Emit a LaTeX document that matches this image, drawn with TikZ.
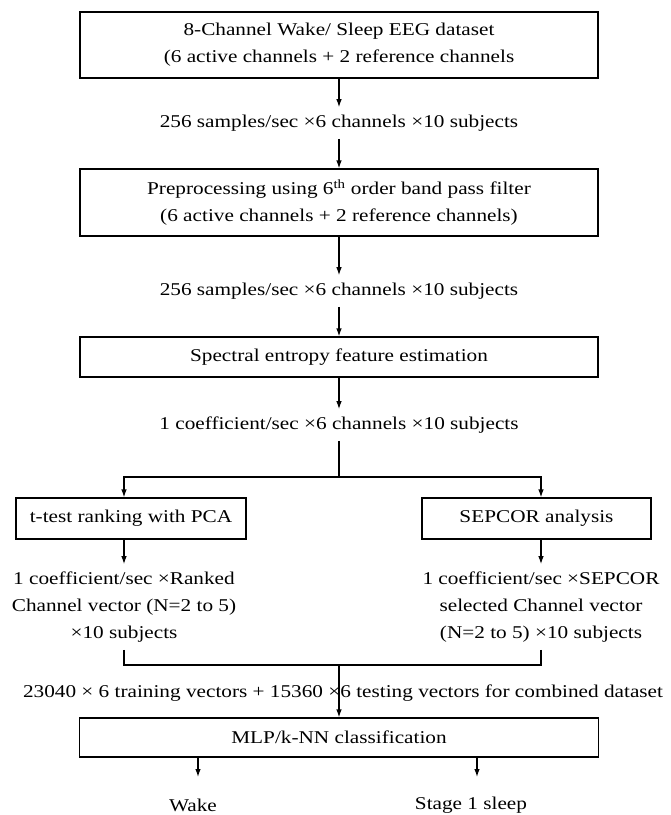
\documentclass[tikz,border=0pt]{standalone}
\usepackage{fontspec}
\setmainfont[FakeStretch=1.18]{Liberation Serif}
\usetikzlibrary{arrows.meta}

\begin{document}
\begin{tikzpicture}[x=1pt, y=-1pt, line width=1.2pt,
	font=\fontsize{18}{27}\selectfont,
	stagebox/.style={draw, align=center, inner sep=0pt},
	datatext/.style={align=center, inner sep=7pt},
	flow/.style={-{Latex[length=8pt,width=5.5pt]}}]
	\useasboundingbox (0, 0) rectangle (671, 815);
	% processing stages
	\node[stagebox, minimum width=518pt, minimum height=66pt] (eeg) at (339, 45)
		{8-Channel Wake/ Sleep EEG dataset\\(6 active channels + 2 reference channels};
	\node[datatext] (raw1) at (339, 123) {256 samples/sec \texttimes6 channels \texttimes10 subjects};
	\node[stagebox, minimum width=518pt, minimum height=67pt] (prep) at (339, 202.5)
		{Preprocessing using 6\textsuperscript{th} order band pass filter\\(6 active channels + 2 reference channels)};
	\node[datatext] (raw2) at (339, 291) {256 samples/sec \texttimes6 channels \texttimes10 subjects};
	\node[stagebox, minimum width=518pt, minimum height=40pt] (spec) at (339, 357) {Spectral entropy feature estimation};
	\node[datatext] (coef) at (339, 425) {1 coefficient/sec \texttimes6 channels \texttimes10 subjects};
	% two channel selections
	\node[stagebox, minimum width=230pt, minimum height=41pt] (ttest) at (131, 518.5) {t-test ranking with PCA};
	\node[stagebox, minimum width=229pt, minimum height=41pt] (sepcor) at (536.5, 518.5) {SEPCOR analysis};
	\node[datatext] (rankvec) at (124, 607)
		{1 coefficient/sec \texttimes Ranked\\Channel vector (N=2 to 5)\\\texttimes10 subjects};
	\node[datatext] (sepvec) at (541, 607)
		{1 coefficient/sec \texttimes SEPCOR\\selected Channel vector\\(N=2 to 5) \texttimes10 subjects};
	\node[datatext] (comb) at (343, 693)
		{23040 \texttimes\ 6 training vectors + 15360 \texttimes6 testing vectors for combined dataset};
	\node[stagebox, minimum width=519pt, minimum height=39pt] (mlp) at (339, 737.5) {MLP/k-NN classification};
	\node (wake) at (193, 805) {Wake};
	\node (stage) at (471, 805) {Stage 1 sleep};
	\coordinate (split) at (339, 477);
	\coordinate (merge) at (339, 665);
	\coordinate (wakeend) at (198, 777);
	\coordinate (stageend) at (477, 777);
	% connectors
	\draw[flow] (eeg) -- (raw1);
	\draw[flow] (raw1) -- (prep);
	\draw[flow] (prep) -- (raw2);
	\draw[flow] (raw2) -- (spec);
	\draw[flow] (spec) -- (coef);
	\draw (coef) -- (split);
	\draw[flow] (split) -| (rankvec.north |- ttest.north);
	\draw[flow] (split) -| (sepvec.north |- sepcor.north);
	\draw[flow] (rankvec.north |- ttest.south) -- (rankvec);
	\draw[flow] (sepvec.north |- sepcor.south) -- (sepvec);
	\draw (rankvec) |- (merge);
	\draw (sepvec) |- (merge);
	\draw[flow] (merge) -- (mlp);
	\draw[flow] (mlp.south -| wakeend) -- (wakeend);
	\draw[flow] (mlp.south -| stageend) -- (stageend);
\end{tikzpicture}
\end{document}
